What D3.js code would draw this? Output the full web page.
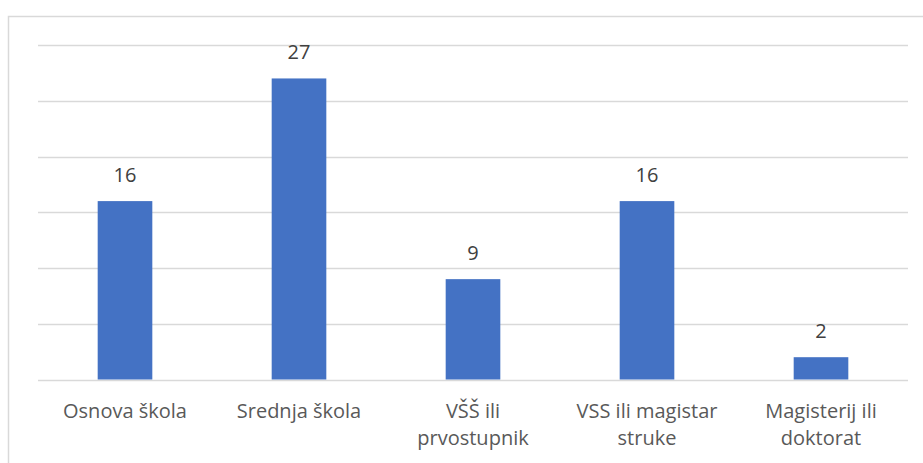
<!DOCTYPE html>
<html>
<head>
<meta charset="utf-8">
<script src="https://cdn.jsdelivr.net/npm/d3@7"></script>
<style>
  body { margin: 0; background: #fff; }
  svg { display: block; }
  .lbl { font-family: "Open Sans", "Noto Sans", sans-serif; fill: #595959; }
</style>
</head>
<body>
<svg id="chart" width="923" height="463"></svg>
<script>
// chart data
var categories = [["Osnova škola"], ["Srednja škola"], ["VŠŠ ili", "prvostupnik"], ["VSS ili magistar", "struke"], ["Magisterij ili", "doktorat"]];
var values = [16, 27, 9, 16, 2];
var yTicks = [0, 5, 10, 15, 20, 25, 30];

var svg = d3.select("#chart"),
    plotLeft = 38, plotRight = 908, plotTop = 45, plotBottom = 379.5;

// outer frame (only left and top edges are visible)
svg.append("path")
    .attr("d", "M8.5,463 V16.5 H923")
    .attr("fill", "none")
    .attr("stroke", "#d9d9d9")
    .attr("stroke-width", 1.5);

var x = d3.scaleBand()
    .domain(d3.range(categories.length))
    .range([plotLeft, plotRight])
    .paddingInner(0.686)
    .paddingOuter(0.343);

var y = d3.scaleLinear().domain([0, 30]).range([plotBottom, plotTop]);

svg.append("g")
    .selectAll("line")
    .data(yTicks)
    .enter().append("line")
    .attr("x1", plotLeft).attr("x2", plotRight)
    .attr("y1", function(d) { return Math.round(y(d)) + 0.5; })
    .attr("y2", function(d) { return Math.round(y(d)) + 0.5; })
    .attr("stroke", "#d9d9d9")
    .attr("stroke-width", 1.3);

svg.append("g")
    .selectAll("rect")
    .data(values)
    .enter().append("rect")
    .attr("x", function(d, i) { return x(i); })
    .attr("width", x.bandwidth())
    .attr("y", function(d) { return y(d); })
    .attr("height", function(d) { return y(0) - y(d); })
    .attr("fill", "#4472c4");

svg.append("g")
    .selectAll("text")
    .data(values)
    .enter().append("text")
    .attr("class", "lbl")
    .attr("x", function(d, i) { return x(i) + x.bandwidth() / 2; })
    .attr("y", function(d) { return y(d) - 19; })
    .attr("text-anchor", "middle")
    .attr("font-size", 20)
    .style("fill", "#404040")
    .text(function(d) { return d; });

var cat = svg.append("g")
    .selectAll("text")
    .data(categories)
    .enter().append("text")
    .attr("class", "lbl")
    .attr("text-anchor", "middle")
    .attr("font-size", 20)
    .attr("x", function(d, i) { return x(i) + x.bandwidth() / 2; })
    .attr("y", 418);

cat.selectAll("tspan")
    .data(function(d, i) { return d.map(function(t) { return {t: t, i: i}; }); })
    .enter().append("tspan")
    .attr("x", function(d) { return x(d.i) + x.bandwidth() / 2; })
    .attr("dy", function(d, j) { return j === 0 ? 0 : 27; })
    .text(function(d) { return d.t; });
</script>
</body>
</html>
